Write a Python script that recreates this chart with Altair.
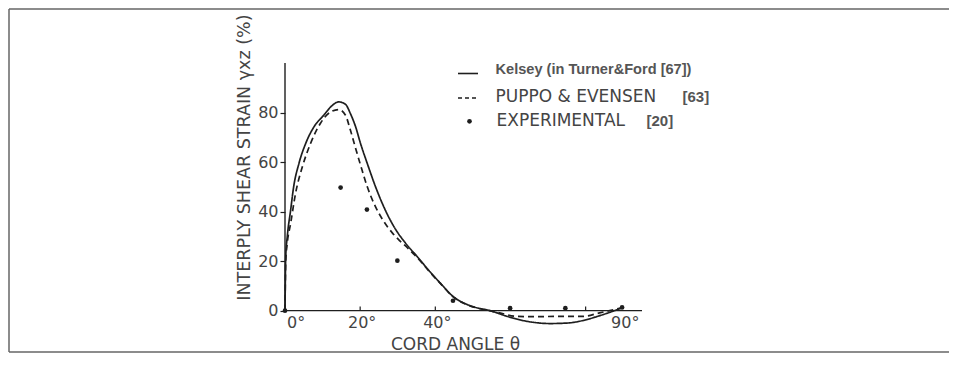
import altair as alt
import pandas as pd

# ---- data ----
kelsey_x = [0, 0.2, 0.6, 1.5, 2.3, 3.7, 5.5, 7.7, 10.3, 12.6, 14.3, 16.1, 17.4, 18.8, 20.1, 21.9,
            24.1, 26.3, 29.0, 32.1, 35.2, 38.7, 41.4, 44.9, 48.0, 51.0, 54.6, 59.1, 64.4, 70.6,
            75.1, 79.5, 84.0, 90]
kelsey_y = [0, 22, 29.8, 40.6, 50, 59.4, 67.5, 74.2, 78.9, 82.9, 84.3, 83.3, 79.6, 74.2, 67.5, 59.4,
            50, 41.9, 33.9, 27.2, 21.8, 15.5, 11.0, 5.5, 2.8, 1.2, 0, -2.3, -4.3, -5.2,
            -5.0, -3.9, -1.9, 1.3]

puppo_x = [0, 0.2, 0.6, 1.5, 2.8, 4.6, 6.8, 9.4, 12.1, 14.3, 16.1, 17.4, 18.8, 20.1, 21.9, 24.1,
           26.3, 28.5, 30.5, 32.5, 35.2, 38.7, 41.4, 44.9, 48.0, 51.0, 54.4, 57.1, 61.6, 66, 74.8,
           79.3, 83.7, 90]
puppo_y = [0, 20, 27.2, 35.2, 47.3, 58, 67.5, 75.6, 80.2, 81.2, 78.9, 72.9, 65.5, 58.8, 50, 41.9,
           36.0, 31.5, 28.3, 25.5, 21.4, 15.3, 10.9, 5.4, 2.7, 1.1, 0, -0.9, -2.3, -2.4, -2.3,
           -2.3, -0.9, 1.3]

exp_x = [0, 14.8, 21.8, 29.9, 44.7, 59.9, 74.6, 89.7]
exp_y = [0, 49.7, 40.8, 20.2, 4.0, 1.0, 1.0, 1.3]

x_label_values = [0, 20, 40, 90]
x_inner_ticks = [20, 40, 60, 80]
y_tick_values = [0, 20, 40, 60, 80]

series_names = ["Kelsey", "Puppo"]
legend_kelsey = "Kelsey (in Turner&Ford [67])"
legend_puppo = "PUPPO & EVENSEN"
legend_puppo_ref = "[63]"
legend_exp = "EXPERIMENTAL"
legend_exp_ref = "[20]"
x_title = "CORD ANGLE θ"
y_title = "INTERPLY SHEAR STRAIN γxz (%)"

# ---- tables ----
curves = pd.concat([
    pd.DataFrame({"x": kelsey_x, "y": kelsey_y, "s": series_names[0]}),
    pd.DataFrame({"x": puppo_x, "y": puppo_y, "s": series_names[1]}),
])
points = pd.DataFrame({"x": exp_x, "y": exp_y})
ticks_df = pd.DataFrame({"x": x_inner_ticks})
one = pd.DataFrame({"a": [0]})

W, H = 357, 265
INK = "#1e1e1e"
TXT = "#444444"
FONT = "DejaVu Sans"

xs = alt.Scale(domain=[0, 95], nice=False, zero=False)
ys = alt.Scale(domain=[-7, 100], nice=False, zero=False)

x_axis = alt.Axis(values=x_label_values, ticks=False, tickSize=0, domain=False, grid=False,
                  labelExpr="datum.value + '°'", labelFont=FONT, labelFontSize=16,
                  labelColor=TXT, labelPadding=3, labelOffset=1.5, offset=-17,
                  title=x_title, titleFont=FONT, titleFontSize=17, titleFontWeight="normal",
                  titleColor=TXT, titleBaseline="alphabetic", titleY=38, titleX=170,
                  titleAlign="center")
y_axis = alt.Axis(values=y_tick_values, domain=False, grid=False, tickSize=5, tickColor=INK,
                  tickWidth=1.2, labelFont=FONT, labelFontSize=16, labelColor=TXT, labelPadding=2,
                  title=y_title, titleFont=FONT, titleFontSize=17.5, titleFontWeight="normal",
                  titleColor=TXT, titleAngle=-90, titleAnchor="end", titleAlign="right",
                  titleBaseline="middle", titleX=-41, titleY=-49)

lines = alt.Chart(curves).mark_line(interpolate="monotone", strokeWidth=1.7).encode(
    x=alt.X("x:Q", scale=xs, axis=x_axis),
    y=alt.Y("y:Q", scale=ys, axis=y_axis),
    strokeDash=alt.StrokeDash("s:N", scale=alt.Scale(domain=series_names, range=[[1, 0], [6, 4]]),
                              legend=None),
    color=alt.value(INK),
    detail="s:N",
)

dots = alt.Chart(points).mark_circle(size=22, opacity=1, color=INK).encode(
    x=alt.X("x:Q", scale=xs), y=alt.Y("y:Q", scale=ys))

x_line = alt.Chart(one).mark_rule(color=INK, strokeWidth=1.4).encode(
    x=alt.datum(0, scale=xs), x2=alt.datum(95), y=alt.datum(0, scale=ys))
y_line = alt.Chart(one).mark_rule(color=INK, strokeWidth=1.4).encode(
    x=alt.datum(0, scale=xs), y=alt.datum(0, scale=ys), y2=alt.datum(100))
inner_ticks = alt.Chart(ticks_df).mark_rule(color=INK, strokeWidth=1.2).encode(
    x=alt.X("x:Q", scale=xs), y=alt.datum(0, scale=ys), y2=alt.datum(1.7))

# ---- manual legend ----
def txt(label, x, y, weight="normal", size=17, font=FONT, color=TXT):
    return alt.Chart(one).mark_text(text=label, align="left", baseline="alphabetic",
                                    font=font, fontSize=size, fontWeight=weight,
                                    color=color).encode(x=alt.value(x), y=alt.value(y))

leg = [
    alt.Chart(one).mark_rule(color=INK, strokeWidth=1.6).encode(
        x=alt.value(173), x2=alt.value(193), y=alt.value(10.5)),
    txt(legend_kelsey, 210.5, 11.3, weight="bold", size=14.6, font="Liberation Sans", color="#555555"),
    alt.Chart(one).mark_rule(color=INK, strokeWidth=1.4, strokeDash=[4, 3]).encode(
        x=alt.value(173), x2=alt.value(193), y=alt.value(35)),
    txt(legend_puppo, 210.5, 39),
    txt(legend_puppo_ref, 397.5, 39, weight="bold", size=15, font="Liberation Sans", color="#555555"),
    alt.Chart(one).mark_circle(size=22, opacity=1, color=INK).encode(
        x=alt.value(184.5), y=alt.value(58.3)),
    txt(legend_exp, 211.5, 63),
    txt(legend_exp_ref, 361.5, 63, weight="bold", size=15, font="Liberation Sans", color="#555555"),
]

# ---- frame (scan border: top, left, bottom) ----
FR = "#666666"
frame = [
    alt.Chart(one).mark_rule(color=FR, strokeWidth=1.5).encode(
        x=alt.value(-276), y=alt.value(-54), y2=alt.value(289)),
    alt.Chart(one).mark_rule(color=FR, strokeWidth=1.5).encode(
        x=alt.value(-276), x2=alt.value(664), y=alt.value(-54)),
    alt.Chart(one).mark_rule(color=FR, strokeWidth=1.5).encode(
        x=alt.value(-276), x2=alt.value(664), y=alt.value(289)),
]

chart = alt.layer(lines, dots, x_line, y_line, inner_ticks, *leg, *frame).properties(
    width=W, height=H, padding=0, background="white"
).configure_view(stroke=None)

chart.save("out.html", embed_options={"renderer": "svg", "actions": False})
